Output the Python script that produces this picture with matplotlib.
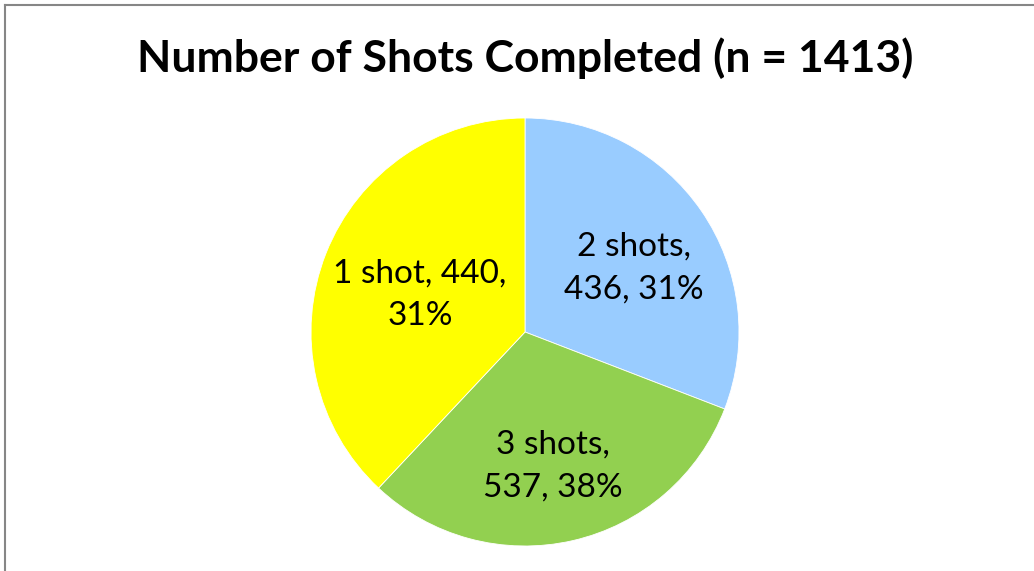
import numpy as np
import matplotlib.pyplot as plt
from matplotlib.lines import Line2D

# data (wedge sizes as drawn in the chart, clockwise from the top)
categories = ["2 shots", "3 shots", "1 shot"]
wedge_sizes = [436, 440, 537]
colors = ["#99CCFF", "#92D050", "#FFFF00"]
label_text = ["2 shots,\n436, 31%", "3 shots,\n537, 38%", "1 shot, 440,\n31%"]
# label placement (distance from centre, angle shift in degrees)
label_dist = [0.59, 0.64, 0.52]
label_shift = [-4, -1, 2]

plt.rcParams['font.family'] = ['Lato', 'DejaVu Sans']

fig = plt.figure(figsize=(10.34, 5.71), dpi=100)
fig.patch.set_facecolor("white")

# chart border (top and left visible)
fig.add_artist(Line2D([5/1034, 5/1034], [0, 1 - 5/571], color="#868686", lw=1.5))
fig.add_artist(Line2D([5/1034, 1], [1 - 5/571, 1 - 5/571], color="#868686", lw=1.5))

r = 214
cx, cy = 525, 332
ax = fig.add_axes([(cx - r)/1034, (571 - cy - r)/571, 2*r/1034, 2*r/571])
wedges, _ = ax.pie(wedge_sizes, colors=colors, startangle=90, counterclock=False,
                   wedgeprops=dict(linewidth=0.6, edgecolor="white"))
ax.set_aspect("equal")
ax.set_xlim(-1, 1)
ax.set_ylim(-1, 1)

for w, txt, d, s in zip(wedges, label_text, label_dist, label_shift):
    mid = np.deg2rad((w.theta1 + w.theta2) / 2 + s)
    ax.text(d*np.cos(mid), d*np.sin(mid), txt, ha="center", va="center",
            fontsize=24, linespacing=1.55, multialignment="center")

fig.text(525/1034, 1 - 58/571, "Number of Shots Completed (n = 1413)",
         ha="center", va="center", fontsize=32, fontweight="bold")

fig.savefig("out.png", dpi=100)
